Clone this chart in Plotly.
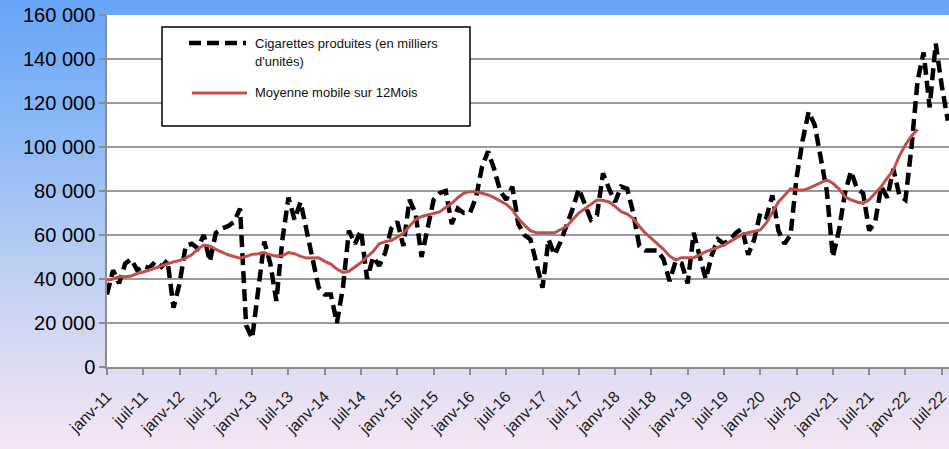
import base64
import plotly.graph_objects as go

# ---------------- data ----------------
tick_labels = [
    "janv-11", "juil-11", "janv-12", "juil-12", "janv-13", "juil-13",
    "janv-14", "juil-14", "janv-15", "juil-15", "janv-16", "juil-16",
    "janv-17", "juil-17", "janv-18", "juil-18", "janv-19", "juil-19",
    "janv-20", "juil-20", "janv-21", "juil-21", "janv-22", "juil-22",
]

cigarettes = [
    33000, 44000, 38000, 47000, 49000, 44000, 46000, 45000, 48000, 45500, 48500, 27000,
    38000, 55000, 56000, 54000, 60000, 48000, 61000, 63000, 64000, 66000, 72000, 19000,
    13000, 36000, 57000, 47000, 30000, 58000, 77000, 67000, 75000, 62000, 50000, 36000,
    33000, 33000, 20000, 36000, 62000, 56000, 62000, 40000, 50000, 46000, 52000, 63000,
    66000, 55000, 76000, 70000, 50000, 62000, 76000, 79000, 80000, 65000, 72000, 70000,
    70000, 77000, 91000, 98000, 90000, 80000, 76000, 82000, 65000, 60000, 58000, 47000,
    36000, 58000, 51000, 57000, 64000, 72000, 81000, 74000, 67000, 69000, 88000, 81000,
    75000, 82000, 81000, 70000, 55000, 53000, 53000, 53000, 49000, 39000, 48000, 47000,
    38000, 61000, 50000, 40000, 51000, 58000, 56000, 58000, 61000, 63000, 51000, 58000,
    70000, 68000, 78000, 62000, 56000, 60000, 86000, 103000, 116000, 110000, 95000, 80000,
    50000, 62000, 79000, 89000, 81000, 79000, 62000, 66000, 82000, 77000, 90000, 78000,
    76000, 100000, 130000, 143000, 118000, 147000, 128000, 112000,
]

moyenne_mobile = [
    39500, 40000, 41000, 41000, 41400, 42500, 43200, 44000, 45000, 46000, 47000, 47800,
    48400, 49500, 51000, 53500, 55400, 55000, 53500, 52300, 51000, 50200, 49500, 50300,
    51200, 51500, 52000, 51000, 50400, 50600, 52000, 51500, 50300, 49500, 49600, 49700,
    48000, 46800, 44500, 43000, 43500, 45500, 47500, 50100, 52500, 56000, 57000, 57500,
    59000, 60800, 64000, 67000, 68400, 69200, 69800, 70500, 72500, 74400, 77000, 79000,
    79700, 79700, 79000, 78200, 77000, 75600, 74000, 71500, 67500, 64500, 62000, 61000,
    61000, 61000, 61000, 62500, 64000, 67000, 70000, 72000, 74000, 75900, 75700, 75000,
    73000, 70600, 69500, 67500, 64000, 60800, 58500, 56200, 53500, 50500, 48600, 49700,
    49700, 49700, 51000, 52500, 53500, 54500, 55400, 57000, 58500, 60300, 61000, 61700,
    62300, 65500, 70000, 75000, 78000, 81000, 80600, 80400, 81200, 82500, 84000, 85000,
    83500, 81000, 77400, 76000, 75000, 74400, 76000, 79000, 82000, 86000, 89500, 96000,
    101000, 105000, 108000,
]

name_cig = "Cigarettes produites (en milliers<br>d'unités)"
name_mm = "Moyenne mobile sur 12Mois"

# ---------------- figure ----------------
W, H = 949, 449
ML, MR, MT, MB = 107, 0, 15, 82
PW, PH = W - ML - MR, H - MT - MB

x_cig = list(range(len(cigarettes)))
x_mm = list(range(len(moyenne_mobile)))

fig = go.Figure()
fig.add_trace(go.Scatter(
    x=x_cig, y=cigarettes, mode="lines", name=name_cig,
    line=dict(color="black", width=4.5, dash="12px,6px"),
))
fig.add_trace(go.Scatter(
    x=x_mm, y=moyenne_mobile, mode="lines", name=name_mm,
    line=dict(color="#c0504d", width=3),
))

# background gradient (whole picture) via inline SVG image
svg = (
    '<svg xmlns="http://www.w3.org/2000/svg" width="949" height="449">'
    '<defs><linearGradient id="g" x1="0" y1="0" x2="0" y2="1">'
    '<stop offset="0" stop-color="#67a4f8"/>'
    '<stop offset="0.3" stop-color="#8db9f5"/>'
    '<stop offset="0.6" stop-color="#bccff1"/>'
    '<stop offset="0.82" stop-color="#dedcf3"/>'
    '<stop offset="1" stop-color="#f6e6f5"/>'
    '</linearGradient></defs>'
    '<rect width="949" height="449" fill="url(#g)"/></svg>'
)
uri = "data:image/svg+xml;base64," + base64.b64encode(svg.encode()).decode()


def px_x(p):
    return (p - ML) / PW


def px_y(p):
    return (H - MB - p) / PH


fig.add_layout_image(dict(
    source=uri, xref="paper", yref="paper",
    x=px_x(0), y=px_y(0), sizex=W / PW, sizey=H / PH,
    xanchor="left", yanchor="top", sizing="stretch", layer="below",
))

shapes = [
    # white plot area
    dict(type="rect", xref="paper", yref="paper", x0=0, x1=1, y0=0, y1=1,
         fillcolor="white", line=dict(width=0), layer="below"),
    # legend box
    dict(type="rect", xref="paper", yref="paper",
         x0=px_x(162), x1=px_x(470), y0=px_y(126), y1=px_y(27),
         fillcolor="white", line=dict(color="black", width=1.5), layer="above"),
    dict(type="line", xref="paper", yref="paper",
         x0=px_x(189), x1=px_x(246), y0=px_y(43), y1=px_y(43),
         line=dict(color="black", width=4.5, dash="12px,6px"), layer="above"),
    dict(type="line", xref="paper", yref="paper",
         x0=px_x(192), x1=px_x(247), y0=px_y(93), y1=px_y(93),
         line=dict(color="#c0504d", width=3), layer="above"),
]

annotations = [
    dict(xref="paper", yref="paper", x=px_x(253), y=px_y(43),
         xanchor="left", yanchor="middle", showarrow=False, align="left",
         text="Cigarettes produites (en milliers", font=dict(size=13, color="#111")),
    dict(xref="paper", yref="paper", x=px_x(253), y=px_y(61),
         xanchor="left", yanchor="middle", showarrow=False, align="left",
         text="d'unités)", font=dict(size=13, color="#111")),
    dict(xref="paper", yref="paper", x=px_x(253), y=px_y(93),
         xanchor="left", yanchor="middle", showarrow=False, align="left",
         text=name_mm, font=dict(size=13, color="#111")),
]

fig.update_layout(
    width=W, height=H,
    margin=dict(l=ML, r=MR, t=MT, b=MB, pad=0),
    paper_bgcolor="#dfe4f5", plot_bgcolor="white",
    showlegend=False,
    separators=", ",
    font=dict(family="Liberation Sans, Arial, sans-serif", color="black"),
    shapes=shapes, annotations=annotations,
)

fig.update_xaxes(
    range=[0, 139.2], tickmode="array",
    tickvals=[6 * i for i in range(len(tick_labels))], ticktext=tick_labels,
    tickangle=-45, tickfont=dict(size=16, color="#1a1a1a"),
    ticklabeloverflow="allow", ticklabelstandoff=6,
    ticks="outside", ticklen=6, tickcolor="#8c8c8c", tickwidth=1.5,
    showline=True, linecolor="#8c8c8c", linewidth=1.5,
    showgrid=False, zeroline=False,
)
fig.update_yaxes(
    range=[0, 160000], dtick=20000, tickformat=",d",
    tickfont=dict(size=20, color="black"),
    ticks="outside", ticklen=6, tickcolor="#8c8c8c", tickwidth=1.5,
    showline=True, linecolor="#8c8c8c", linewidth=1.5,
    showgrid=True, gridcolor="#9a9a9a", gridwidth=1.5, zeroline=False,
)

fig.write_html(
    "out.html",
    config={"displayModeBar": False},
    post_script="document.body.style.margin='0';document.body.style.overflow='hidden';",
)
